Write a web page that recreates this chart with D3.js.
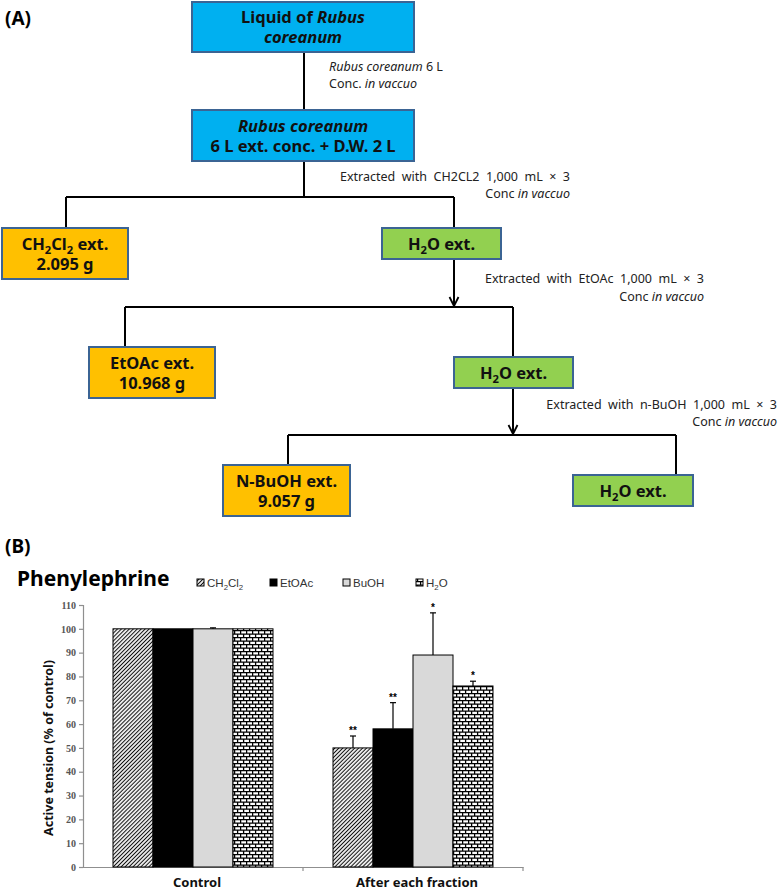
<!DOCTYPE html>
<html>
<head>
<meta charset="utf-8">
<script src="https://cdn.jsdelivr.net/npm/d3@7"></script>
<style>
  html, body { margin: 0; padding: 0; background: #fff; }
  svg { display: block; }
  text { white-space: pre; }
</style>
</head>
<body>
<div id="chart"></div>
<script>
// ---------------- DATA ----------------
const categories = ["Control", "After each fraction"];
const seriesNames = ["CH2Cl2", "EtOAc", "BuOH", "H2O"];
const controlValues = [100, 100, 100, 100];
const controlErrors = [0, 0, 0.4, 0];
const controlMarks = ["", "", "", ""];
const afterValues = [50, 58, 89, 76];
const afterErrors = [5, 11, 17.7, 2];
const afterMarks = ["**", "**", "*", "*"];
const yTicks = [0, 10, 20, 30, 40, 50, 60, 70, 80, 90, 100, 110];
const chartTitle = "Phenylephrine";
const yAxisTitle = "Active tension (% of control)";

// Flowchart texts (segments: [text, style]) style: n normal, i italic, s subscript
const nodeTexts = [
  [[["Liquid of ", "n"], ["Rubus", "i"]], [["coreanum", "i"]]],
  [[["Rubus coreanum", "i"]], [["6 L ext. conc. + D.W. 2 L", "n"]]],
  [[["CH", "n"], ["2", "s"], ["Cl", "n"], ["2", "s"], [" ext.", "n"]], [["2.095 g", "n"]]],
  [[["H", "n"], ["2", "s"], ["O ext.", "n"]]],
  [[["EtOAc ext.", "n"]], [["10.968 g", "n"]]],
  [[["H", "n"], ["2", "s"], ["O ext.", "n"]]],
  [[["N-BuOH ext.", "n"]], [["9.057 g", "n"]]],
  [[["H", "n"], ["2", "s"], ["O ext.", "n"]]]
];
const stepTexts = [
  [[["Rubus coreanum", "i"], [" 6 L", "n"]], [["Conc. ", "n"], ["in vaccuo", "i"]]],
  [[["Extracted  with  CH2CL2  1,000  mL  \u00d7  3", "n"]], [["Conc ", "n"], ["in vaccuo", "i"]]],
  [[["Extracted  with  EtOAc  1,000  mL  \u00d7  3", "n"]], [["Conc ", "n"], ["in vaccuo", "i"]]],
  [[["Extracted  with  n-BuOH  1,000  mL  \u00d7  3", "n"]], [["Conc ", "n"], ["in vaccuo", "i"]]]
];

// ---------------- LAYOUT ----------------
const W = 778, H = 891;
const svg = d3.select("#chart").append("svg").attr("width", W).attr("height", H);
svg.append("rect").attr("width", W).attr("height", H).attr("fill", "#fff");

const FF = "'Noto Sans', 'Open Sans', sans-serif";
const colors = { blue: "#00B0F0", orange: "#FFC000", green: "#92D050", edge: "#3B6494" };

// node boxes: x0, y0, x1, y1, fill
const nodeBoxes = [
  [192, 2, 414, 52, colors.blue],
  [192, 110, 414, 161, colors.blue],
  [2, 228, 128, 279, colors.orange],
  [382, 228, 501, 259, colors.green],
  [89, 347, 215, 398, colors.orange],
  [454, 357, 573, 388, colors.green],
  [223, 465, 350, 516, colors.orange],
  [573, 475, 693, 506, colors.green]
];
// step annotation positions: x, baseline1, baseline2, anchor
const stepPos = [
  [329, 71, 88, "start"],
  [570, 181, 198, "end"],
  [704, 283, 301, "end"],
  [777, 409, 426, "end"]
];

const flow = svg.append("g");
const conn = [
  "M304,52V110",
  "M304,161V197 M66,197H454 M66,197V228 M454,197V228",
  "M454,259V306 M125,307H513 M125,307V347 M513,307V357",
  "M513,388V434 M288,435H676 M288,435V465 M676,435V475"
];
flow.selectAll("path.conn").data(conn).join("path")
  .attr("d", d => d).attr("fill", "none").attr("stroke", "#000").attr("stroke-width", 2);
flow.selectAll("path.arr").data([[454, 306], [513, 434]]).join("path")
  .attr("d", d => `M${d[0] - 4.5},${d[1] - 9}L${d[0]},${d[1]}L${d[0] + 4.5},${d[1] - 9}`)
  .attr("fill", "none").attr("stroke", "#000").attr("stroke-width", 1.8);

function addSegs(textSel, segs, size) {
  segs.forEach(([t, st], i) => {
    const ts = textSel.append("tspan").text(t);
    if (st === "i") ts.attr("font-style", "italic");
    if (st === "s") {
      ts.attr("font-size", size * 0.68).attr("dy", size * 0.28);
    } else if (i > 0 && segs[i - 1][1] === "s") {
      ts.attr("dy", -size * 0.28);
    }
  });
}

nodeBoxes.forEach((b, i) => {
  flow.append("rect").attr("x", b[0]).attr("y", b[1]).attr("width", b[2] - b[0]).attr("height", b[3] - b[1])
    .attr("fill", b[4]).attr("stroke", colors.edge).attr("stroke-width", 2);
  const lines = nodeTexts[i];
  const cx = (b[0] + b[2]) / 2, cy = (b[1] + b[3]) / 2;
  const fs = 16.5, lh = 20;
  lines.forEach((segs, li) => {
    const base = cy + 6 + (li - (lines.length - 1) / 2) * lh;
    const t = flow.append("text").attr("x", cx).attr("y", base).attr("text-anchor", "middle")
      .attr("font-family", FF).attr("font-weight", "bold").attr("font-size", fs).attr("fill", "#111");
    addSegs(t, segs, fs);
  });
});

stepTexts.forEach((lines, i) => {
  const p = stepPos[i];
  lines.forEach((segs, li) => {
    const t = flow.append("text").attr("x", p[0]).attr("y", li === 0 ? p[1] : p[2])
      .attr("text-anchor", p[3]).attr("font-family", FF).attr("font-size", 12.5).attr("fill", "#222");
    addSegs(t, segs, 12.5);
  });
});

svg.append("text").attr("x", 5).attr("y", 25).text("(A)")
  .attr("font-family", FF).attr("font-weight", "bold").attr("font-size", 19).attr("fill", "#000");
svg.append("text").attr("x", 5).attr("y", 553).text("(B)")
  .attr("font-family", FF).attr("font-weight", "bold").attr("font-size", 19).attr("fill", "#000");

// ---------------- BAR CHART ----------------
const defs = svg.append("defs");
const hatch = defs.append("pattern").attr("id", "hatch").attr("patternUnits", "userSpaceOnUse")
  .attr("width", 2.8).attr("height", 2.8).attr("patternTransform", "rotate(45)");
hatch.append("rect").attr("width", 2.8).attr("height", 2.8).attr("fill", "#fff");
hatch.append("line").attr("x1", 1.4).attr("y1", 0).attr("x2", 1.4).attr("y2", 2.8)
  .attr("stroke", "#111").attr("stroke-width", 1.1);
const brick = defs.append("pattern").attr("id", "brick").attr("patternUnits", "userSpaceOnUse")
  .attr("width", 6).attr("height", 7);
brick.append("rect").attr("width", 6).attr("height", 7).attr("fill", "#fff");
brick.append("path").attr("d", "M0,0.6H6M0,4.1H6M0.6,0V3.5M3.6,3.5V7")
  .attr("stroke", "#000").attr("stroke-width", 1.3).attr("fill", "none");

const seriesFill = ["url(#hatch)", "#000", "#d9d9d9", "url(#brick)"];

const x = d3.scaleBand().domain(categories).range([83, 523]).paddingInner(0).paddingOuter(0);
const xs = d3.scaleBand().domain(seriesNames).range([0, x.bandwidth()]).paddingInner(0).paddingOuter(0.75);
const y = d3.scaleLinear().domain([0, 110]).range([867, 605]);

const axisColor = "#8f8f8f";
const yAxis = svg.append("g").attr("transform", "translate(83,0)")
  .call(d3.axisLeft(y).tickValues(yTicks).tickSize(4).tickPadding(3));
yAxis.select(".domain").attr("stroke", axisColor).attr("stroke-width", 1.2);
yAxis.selectAll(".tick line").attr("stroke", axisColor).attr("stroke-width", 1.2);
yAxis.selectAll(".tick text").attr("font-family", "'Liberation Serif', serif").attr("font-size", 10)
  .attr("font-weight", "bold").attr("fill", "#555");

const xAxis = svg.append("g").attr("transform", `translate(0,${y(0)})`)
  .call(d3.axisBottom(x).tickSize(0).tickPadding(11));
xAxis.select(".domain").attr("stroke", axisColor).attr("stroke-width", 1.2);
xAxis.selectAll(".tick text").attr("font-family", FF).attr("font-size", 13).attr("font-weight", "bold")
  .attr("fill", "#111").attr("dx", 4);
svg.append("g").selectAll("line").data(categories).join("line")
  .attr("x1", d => x(d) + x.step()).attr("x2", d => x(d) + x.step())
  .attr("y1", y(0)).attr("y2", y(0) + 4).attr("stroke", axisColor).attr("stroke-width", 1.2);

const groups = [
  { cat: categories[0], vals: controlValues, errs: controlErrors, marks: controlMarks },
  { cat: categories[1], vals: afterValues, errs: afterErrors, marks: afterMarks }
];
const barData = [];
groups.forEach(g => seriesNames.forEach((s, i) => barData.push({
  cat: g.cat, s, i, v: g.vals[i], e: g.errs[i], m: g.marks[i]
})));

const bars = svg.append("g");
bars.selectAll("rect").data(barData).join("rect")
  .attr("x", d => x(d.cat) + xs(d.s)).attr("width", xs.bandwidth())
  .attr("y", d => y(d.v)).attr("height", d => y(0) - y(d.v))
  .attr("fill", d => seriesFill[d.i]).attr("stroke", "#000").attr("stroke-width", 1);

const errs = svg.append("g").attr("stroke", "#000").attr("stroke-width", 1.2);
barData.filter(d => d.e > 0).forEach(d => {
  const cx = x(d.cat) + xs(d.s) + xs.bandwidth() / 2;
  errs.append("line").attr("x1", cx).attr("x2", cx).attr("y1", y(d.v)).attr("y2", y(d.v + d.e));
  errs.append("line").attr("x1", cx - 3).attr("x2", cx + 3).attr("y1", y(d.v + d.e)).attr("y2", y(d.v + d.e));
});
svg.append("g").selectAll("text").data(barData.filter(d => d.m)).join("text")
  .attr("x", d => x(d.cat) + xs(d.s) + xs.bandwidth() / 2)
  .attr("y", d => y(d.v + d.e) - 2)
  .attr("text-anchor", "middle").attr("font-family", "'Liberation Sans', sans-serif")
  .attr("font-size", 10).attr("font-weight", "bold").attr("fill", "#000").text(d => d.m);

svg.append("text").attr("x", 17).attr("y", 586).text(chartTitle)
  .attr("font-family", FF).attr("font-weight", "bold").attr("font-size", 21).attr("fill", "#000");

svg.append("text").attr("transform", "translate(53,748) rotate(-90)").attr("text-anchor", "middle")
  .attr("font-family", FF).attr("font-weight", "bold").attr("font-size", 12.5).attr("fill", "#111")
  .text(yAxisTitle);

const legendLabels = [
  [["CH", "n"], ["2", "s"], ["Cl", "n"], ["2", "s"]],
  [["EtOAc", "n"]],
  [["BuOH", "n"]],
  [["H", "n"], ["2", "s"], ["O", "n"]]
];
const legendX = [197, 270, 343, 416];
const lg = svg.append("g");
seriesNames.forEach((s, i) => {
  lg.append("rect").attr("x", legendX[i]).attr("y", 579).attr("width", 7).attr("height", 7)
    .attr("fill", seriesFill[i]).attr("stroke", "#000").attr("stroke-width", 1);
  const t = lg.append("text").attr("x", legendX[i] + 10).attr("y", 587)
    .attr("font-family", "'Liberation Sans', Arial, sans-serif").attr("font-size", 11.5).attr("fill", "#333");
  addSegs(t, legendLabels[i], 11.5);
});
</script>
</body>
</html>
